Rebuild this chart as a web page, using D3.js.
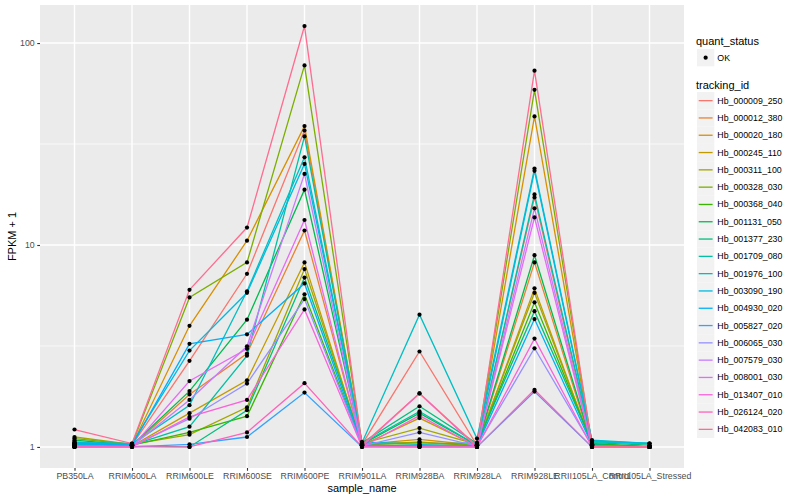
<!DOCTYPE html>
<html>
<head>
<meta charset="utf-8">
<script src="https://cdn.jsdelivr.net/npm/d3@7"></script>
<style>
body { margin: 0; background: #fff; }
text { font-family: "Liberation Sans", Arial, sans-serif; }
</style>
</head>
<body>
<div id="chart"></div>
<script>
// samples on the x axis
var sampleNames = ["PB350LA", "RRIM600LA", "RRIM600LE", "RRIM600SE", "RRIM600PE", "RRIM901LA",
  "RRIM928BA", "RRIM928LA", "RRIM928LE", "RRII105LA_Control", "RRII105LA_Stressed"];

var trackingIds = ["Hb_000009_250", "Hb_000012_380", "Hb_000020_180", "Hb_000245_110", "Hb_000311_100",
  "Hb_000328_030", "Hb_000368_040", "Hb_001131_050", "Hb_001377_230", "Hb_001709_080",
  "Hb_001976_100", "Hb_003090_190", "Hb_004930_020", "Hb_005827_020", "Hb_006065_030",
  "Hb_007579_030", "Hb_008001_030", "Hb_013407_010", "Hb_026124_020", "Hb_042083_010"];

// FPKM + 1 per tracking id, in sample order
var hb_000009_250 = [1.01, 1.02, 2.67, 7.2, 36.9, 1.03, 2.97, 1.02, 17.2, 1.02, 1.0];
var hb_000012_380 = [1.02, 1.01, 1.82, 2.9, 11.8, 1.02, 1.06, 1.01, 8.2, 1.01, 1.0];
var hb_000020_180 = [1.02, 1.02, 3.98, 10.5, 38.8, 1.03, 1.09, 1.02, 43.3, 1.02, 1.0];
var hb_000245_110 = [1.03, 1.01, 1.47, 2.14, 8.2, 1.02, 1.39, 1.01, 6.1, 1.01, 1.0];
var hb_000311_100 = [1.12, 1.03, 1.15, 1.57, 7.6, 1.04, 1.24, 1.03, 5.8, 1.03, 1.0];
var hb_000328_030 = [1.10, 1.03, 5.5, 8.2, 77.5, 1.04, 1.05, 1.03, 58.7, 1.03, 1.0];
var hb_000368_040 = [1.04, 1.02, 1.18, 1.42, 5.7, 1.02, 1.02, 1.02, 5.2, 1.04, 1.0];
var hb_001131_050 = [1.08, 1.02, 1.89, 4.27, 18.8, 1.03, 1.47, 1.02, 8.9, 1.03, 1.0];
var hb_001377_230 = [1.05, 1.01, 1.0, 1.52, 6.9, 1.05, 1.59, 1.04, 4.7, 1.05, 1.02];
var hb_001709_080 = [1.06, 1.02, 1.26, 2.83, 34.5, 1.04, 1.5, 1.02, 17.8, 1.06, 1.04];
var hb_001976_100 = [1.03, 1.03, 1.61, 5.9, 27.2, 1.05, 4.52, 1.1, 23.9, 1.08, 1.04];
var hb_003090_190 = [1.05, 1.04, 3.0, 5.8, 25.2, 1.06, 1.03, 1.05, 23.3, 1.07, 1.04];
var hb_004930_020 = [1.04, 1.02, 3.24, 3.61, 6.45, 1.02, 1.01, 1.01, 4.3, 1.02, 1.0];
var hb_005827_020 = [1.0, 1.0, 1.03, 1.12, 1.86, 1.0, 1.0, 1.0, 1.88, 1.0, 1.0];
var hb_006065_030 = [1.0, 1.01, 1.38, 2.06, 5.4, 1.01, 1.18, 1.01, 3.08, 1.01, 1.0];
var hb_007579_030 = [1.0, 1.01, 1.71, 3.15, 22.5, 1.01, 1.0, 1.0, 15.2, 1.0, 1.0];
var hb_008001_030 = [1.0, 1.0, 2.12, 3.06, 13.3, 1.01, 1.84, 1.0, 13.7, 1.0, 1.0];
var hb_013407_010 = [1.0, 1.0, 1.41, 1.71, 4.8, 1.0, 1.43, 1.0, 3.44, 1.0, 1.0];
var hb_026124_020 = [1.0, 1.0, 1.0, 1.18, 2.07, 1.0, 1.0, 1.0, 1.92, 1.0, 1.0];
var hb_042083_010 = [1.22, 1.04, 6.0, 12.2, 121.4, 1.02, 1.84, 1.01, 73, 1.01, 1.0];

var yTicks = [1, 10, 100];
var yMinor = [Math.pow(10, 0.5), Math.pow(10, 1.5)];

var seriesValues = [hb_000009_250, hb_000012_380, hb_000020_180, hb_000245_110, hb_000311_100,
  hb_000328_030, hb_000368_040, hb_001131_050, hb_001377_230, hb_001709_080,
  hb_001976_100, hb_003090_190, hb_004930_020, hb_005827_020, hb_006065_030,
  hb_007579_030, hb_008001_030, hb_013407_010, hb_026124_020, hb_042083_010];

var series = trackingIds.map(function(id, i) {
  return { id: id, values: seriesValues[i].map(function(v, j) { return { sample: sampleNames[j], value: v }; }) };
});

// ggplot hue palette for 20 levels
var colour = d3.scaleOrdinal()
  .domain(trackingIds)
  .range(["#F8766D", "#EA8331", "#D89000", "#C09B00", "#A3A500", "#7CAE00", "#39B600", "#00BB4E",
    "#00BF7D", "#00C1A3", "#00BFC4", "#00BAE0", "#00B0F6", "#35A2FF", "#9590FF", "#C77CFF",
    "#E76BF3", "#FA62DB", "#FF62BC", "#FF6C90"]);

var W = 800, H = 500;
var panel = {left: 40, top: 5, right: 684, bottom: 468};

var svg = d3.select("#chart").append("svg")
  .attr("width", W)
  .attr("height", H);

// x: discrete with 0.6 expansion each side
var x = d3.scalePoint()
  .domain(sampleNames)
  .range([panel.left, panel.right])
  .padding(0.6);

// y: log10 with 5% expansion
var all = [].concat.apply([], seriesValues);
var lo = Math.log10(d3.min(all)), hi = Math.log10(d3.max(all));
var pad = (hi - lo) * 0.05;
var y = d3.scaleLog()
  .domain([Math.pow(10, lo - pad), Math.pow(10, hi + pad)])
  .range([panel.bottom, panel.top]);

svg.append("rect")
  .attr("x", panel.left).attr("y", panel.top)
  .attr("width", panel.right - panel.left).attr("height", panel.bottom - panel.top)
  .attr("fill", "#EBEBEB");

// grid
svg.append("g").selectAll("line").data(yMinor).enter().append("line")
  .attr("x1", panel.left).attr("x2", panel.right)
  .attr("y1", function(d) { return y(d); }).attr("y2", function(d) { return y(d); })
  .attr("stroke", "#fff").attr("stroke-width", 0.7);
svg.append("g").selectAll("line").data(yTicks).enter().append("line")
  .attr("x1", panel.left).attr("x2", panel.right)
  .attr("y1", function(d) { return y(d); }).attr("y2", function(d) { return y(d); })
  .attr("stroke", "#fff").attr("stroke-width", 1.4);
svg.append("g").selectAll("line").data(sampleNames).enter().append("line")
  .attr("x1", function(d) { return x(d); }).attr("x2", function(d) { return x(d); })
  .attr("y1", panel.top).attr("y2", panel.bottom)
  .attr("stroke", "#fff").attr("stroke-width", 1.4);

// lines
var line = d3.line()
  .x(function(d) { return x(d.sample); })
  .y(function(d) { return y(d.value); });

svg.append("g").selectAll("path").data(series).enter().append("path")
  .attr("d", function(d) { return line(d.values); })
  .attr("fill", "none")
  .attr("stroke", function(d) { return colour(d.id); })
  .attr("stroke-width", 1.3);

// points
svg.append("g").selectAll("g").data(series).enter().append("g")
  .selectAll("circle").data(function(d) { return d.values; }).enter().append("circle")
  .attr("cx", function(d) { return x(d.sample); })
  .attr("cy", function(d) { return y(d.value); })
  .attr("r", 2.1)
  .attr("fill", "#000");

// axes
var xAxis = svg.append("g")
  .attr("transform", "translate(0," + panel.bottom + ")")
  .call(d3.axisBottom(x).tickSizeInner(2.75).tickSizeOuter(0).tickPadding(2.5));
var yAxis = svg.append("g")
  .attr("transform", "translate(" + panel.left + ",0)")
  .call(d3.axisLeft(y).tickValues(yTicks).tickFormat(d3.format("d")).tickSizeInner(2.75).tickSizeOuter(0).tickPadding(2.5));
[xAxis, yAxis].forEach(function(a) {
  a.select(".domain").remove();
  a.selectAll(".tick line").attr("stroke", "#333333").attr("stroke-width", 1.1);
  a.selectAll(".tick text").attr("fill", "#4D4D4D").style("font-size", "8.8px")
    .style("font-family", "'Liberation Sans', Arial, sans-serif");
});

svg.append("text")
  .attr("x", (panel.left + panel.right) / 2).attr("y", 492)
  .attr("text-anchor", "middle").style("font-size", "11px").attr("fill", "#000")
  .text("sample_name");
svg.append("text")
  .attr("transform", "translate(16," + ((panel.top + panel.bottom) / 2) + ") rotate(-90)")
  .attr("text-anchor", "middle").style("font-size", "11px").attr("fill", "#000")
  .text("FPKM + 1");

// legends
var lx = 697, key = 17.3;
var legend = svg.append("g");
legend.append("text").attr("x", lx - 1).attr("y", 44.5).style("font-size", "11px").text("quant_status");
legend.append("rect").attr("x", lx).attr("y", 49).attr("width", key).attr("height", key).attr("fill", "#F2F2F2");
legend.append("circle").attr("cx", lx + key / 2).attr("cy", 49 + key / 2).attr("r", 2.1).attr("fill", "#000");
legend.append("text").attr("x", lx + key + 3).attr("y", 49 + key / 2 + 3).style("font-size", "8.8px").text("OK");

legend.append("text").attr("x", lx - 1).attr("y", 89).style("font-size", "11px").text("tracking_id");
var items = legend.selectAll(".item").data(trackingIds).enter().append("g")
  .attr("class", "item")
  .attr("transform", function(d, i) { return "translate(" + lx + "," + (92 + i * key) + ")"; });
items.append("rect").attr("width", key).attr("height", key).attr("fill", "#F2F2F2");
items.append("line")
  .attr("x1", 1.7).attr("x2", key - 1.7).attr("y1", key / 2).attr("y2", key / 2)
  .attr("stroke", function(d) { return colour(d); }).attr("stroke-width", 1.3);
items.append("text").attr("x", key + 3).attr("y", key / 2 + 3)
  .style("font-size", "8.8px").attr("fill", "#000")
  .text(function(d) { return d; });
</script>
</body>
</html>
